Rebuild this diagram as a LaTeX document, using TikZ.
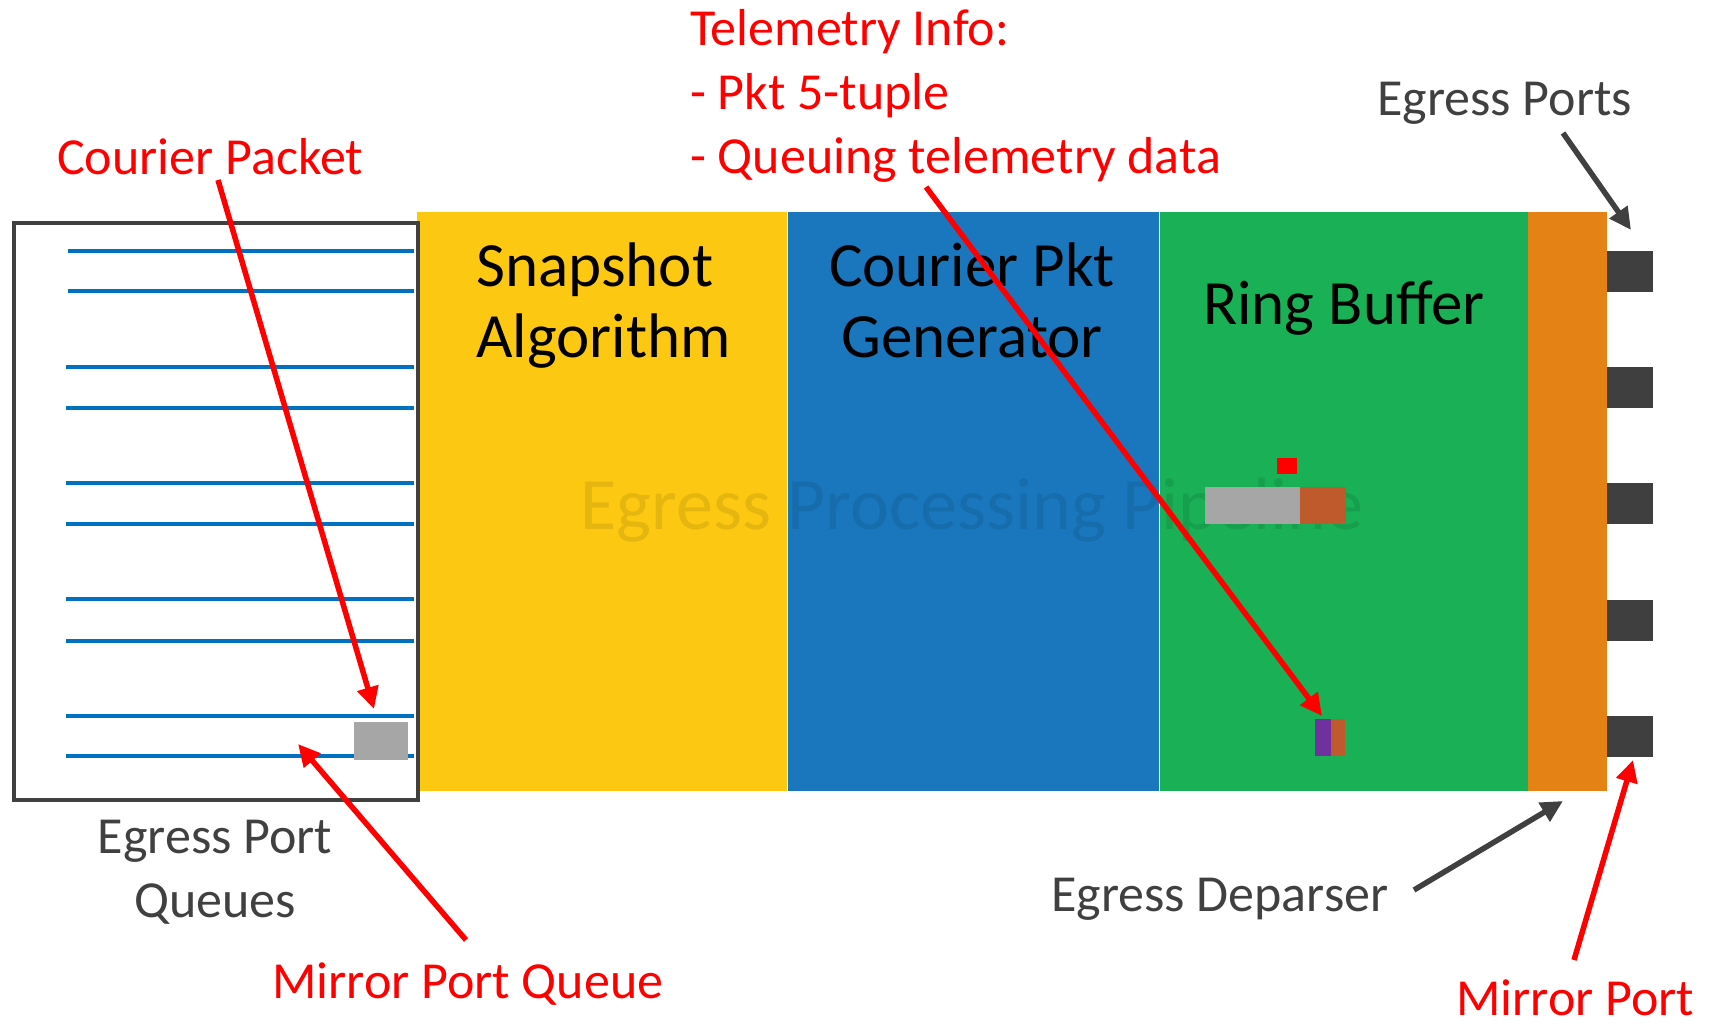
\documentclass[tikz,border=0pt]{standalone}
\usepackage{fontspec}
\setmainfont{Carlito}
\usetikzlibrary{arrows.meta}

\definecolor{snapY}{HTML}{FCC812}
\definecolor{genB}{HTML}{1A77BD}
\definecolor{ringG}{HTML}{19B056}
\definecolor{depO}{HTML}{E48215}
\definecolor{portK}{HTML}{3F3F3F}
\definecolor{qline}{HTML}{0070C0}
\definecolor{pktGray}{HTML}{A6A6A6}
\definecolor{pktBrown}{HTML}{BF5A2D}
\definecolor{pktPurple}{HTML}{7030A0}
\definecolor{labRed}{HTML}{FF0000}
\definecolor{labGray}{HTML}{404040}

\tikzset{
  stage/.style={draw=none, inner sep=0pt, anchor=north west, minimum height=579pt},
  stagetext/.style={text=black, font=\fontsize{63}{71}\selectfont, inner sep=0pt},
  portbox/.style={fill=portK, draw=none, inner sep=0pt, anchor=north west,
                  minimum width=46pt, minimum height=41pt},
  chip/.style={draw=none, inner sep=0pt, anchor=north west},
  qbar/.style={draw=qline, line width=3.2pt},
  redlab/.style={text=labRed, font=\fontsize{52}{64}\selectfont, inner sep=0pt},
  graylab/.style={text=labGray, font=\fontsize{52}{64}\selectfont, inner sep=0pt},
  redarrow/.style={draw=labRed, line width=5.5pt, -{Triangle[length=22pt,width=21pt]}},
  grayarrow/.style={draw=labGray, line width=5.5pt, -{Triangle[length=22pt,width=21pt]}},
}

\begin{document}
\begin{tikzpicture}[x=1pt, y=-1pt]
\useasboundingbox (0,0) rectangle (1709,1025);

% pipeline stages
\node[stage, fill=snapY, minimum width=370pt] (snap) at (417,212) {};
\node[stage, fill=genB, minimum width=371pt] (gen) at (788,212) {};
\node[stage, fill=ringG, minimum width=368pt] (ring) at (1160,212) {};
\node[stage, fill=depO, minimum width=79pt] (dep) at (1528,212) {};

% faint title across the pipeline
\node[inner sep=0pt, anchor=base, text=black, text opacity=0.09,
      font=\fontsize{74}{80}\selectfont] (wm) at (972,529) {Egress Processing Pipeline};

% stage titles (base anchor sits on the last line)
\node[stagetext, anchor=base west, align=left] (snapt) at (476,357) {Snapshot\\Algorithm};
\node[stagetext, anchor=base, align=center] (gent) at (972,357) {Courier Pkt\\Generator};
\node[stagetext, anchor=base] (ringt) at (1344,324) {Ring Buffer};

% ring buffer contents
\node[chip, fill=labRed, minimum width=20pt, minimum height=16pt] (rsq) at (1277,458) {};
\node[chip, fill=pktGray, minimum width=95pt, minimum height=37pt] (rgray) at (1205,487) {};
\node[chip, fill=pktBrown, minimum width=46pt, minimum height=37pt] (rbrown) at (1300,487) {};
\node[chip, fill=pktPurple, minimum width=16pt, minimum height=37pt] (tpurple) at (1315,719) {};
\node[chip, fill=pktBrown, minimum width=14pt, minimum height=37pt] (tbrown) at (1331,719) {};

% egress ports
\node[portbox] (p1) at (1607,251) {};
\node[portbox] (p2) at (1607,367) {};
\node[portbox] (p3) at (1607,483) {};
\node[portbox] (p4) at (1607,600) {};
\node[portbox] (p5) at (1607,716) {};

% egress port queues
\node[draw=labGray, line width=3.5pt, inner sep=0pt, anchor=north west,
      minimum width=404pt, minimum height=577pt] (qbox) at (12,221) {};
\draw[qbar] (68,251) -- (414,251);
\draw[qbar] (68,291) -- (414,291);
\draw[qbar] (66,367) -- (414,367);
\draw[qbar] (66,408) -- (414,408);
\draw[qbar] (66,483) -- (414,483);
\draw[qbar] (66,524) -- (414,524);
\draw[qbar] (66,599) -- (414,599);
\draw[qbar] (66,641) -- (414,641);
\draw[qbar] (66,716) -- (414,716);
\draw[qbar] (66,756) -- (414,756);
\node[chip, fill=pktGray, minimum width=54pt, minimum height=38pt] (qpkt) at (354,722) {};

% labels (base anchor sits on the last line)
\node[redlab, anchor=base west] (courier) at (57,174) {Courier Packet};
\node[redlab, anchor=base west, align=left] (telem) at (690,173)
  {Telemetry Info:\\- Pkt 5-tuple\\- Queuing telemetry data};
\node[graylab, anchor=base west] (eports) at (1377,115) {Egress Ports};
\node[graylab, anchor=base, align=center] (equeues) at (215,917) {Egress Port\\Queues};
\node[redlab, anchor=base west] (mpq) at (272,998) {Mirror Port Queue};
\node[graylab, anchor=base west] (edep) at (1051,911) {Egress Deparser};
\node[redlab, anchor=base west] (mport) at (1456,1015) {Mirror Port};

% arrow ends
\coordinate (courierA) at (218,180);
\coordinate (courierB) at (374,709);
\coordinate (mpqA) at (466,940);
\coordinate (mpqB) at (298,744);
\coordinate (telA) at (926,187);
\coordinate (telB) at (1322,716);
\coordinate (epA) at (1563,133);
\coordinate (epB) at (1631,230);
\coordinate (edA) at (1414,890);
\coordinate (edB) at (1563,801);
\coordinate (mpA) at (1574,960);
\coordinate (mpB) at (1633,760);

\draw[redarrow] (courierA) -- (courierB);
\draw[redarrow] (mpqA) -- (mpqB);
\draw[redarrow] (telA) -- (telB);
\draw[grayarrow] (epA) -- (epB);
\draw[grayarrow] (edA) -- (edB);
\draw[redarrow] (mpA) -- (mpB);
\end{tikzpicture}
\end{document}
